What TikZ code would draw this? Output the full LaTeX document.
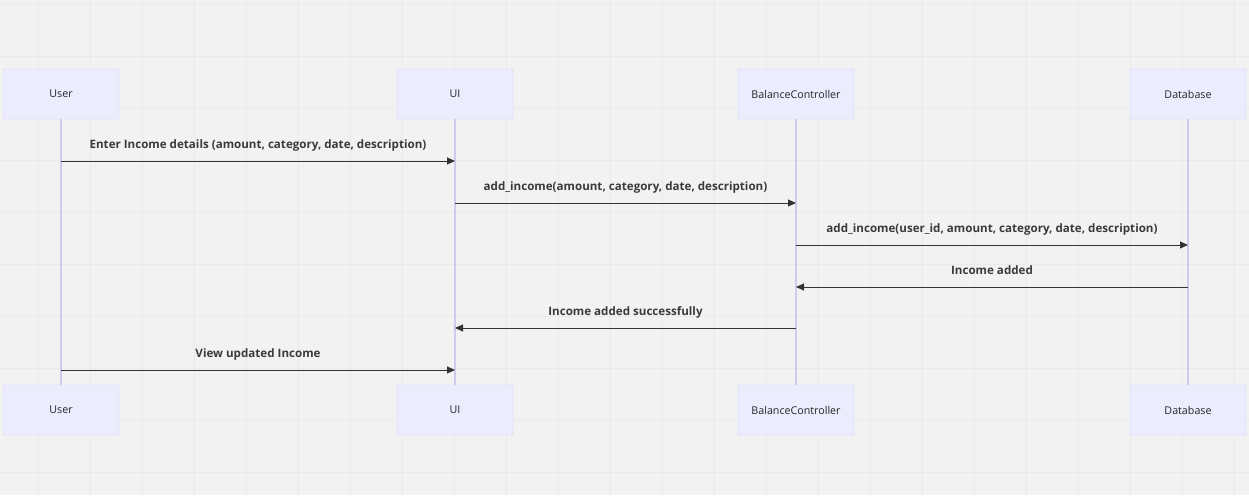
\documentclass[tikz,border=0pt]{standalone}
\usepackage{fontspec}
\setmainfont{Open Sans}
\usetikzlibrary{arrows.meta}
\definecolor{fundo}{HTML}{F2F2F2}
\definecolor{grade}{HTML}{EAEAEA}
\definecolor{caixa}{HTML}{ECECFF}
\definecolor{borda}{HTML}{D6CCF2}
\definecolor{vida}{HTML}{D4C8EE}
\definecolor{seta}{HTML}{333333}
\definecolor{letra}{HTML}{3A3A3A}
\tikzset{
  ator/.style={draw=borda, fill=caixa, rounded corners=1.5pt, minimum width=116pt, minimum height=50pt, font=\fontsize{10.7}{12}\selectfont, text=black!85},
  vidaline/.style={vida, line width=1.2pt},
  msg/.style={seta, line width=0.9pt, -{Triangle[length=8pt,width=7pt]}},
  rotulo/.style={font=\fontsize{11.6}{13}\selectfont\bfseries, text=letra, anchor=base}
}
\begin{document}
\begin{tikzpicture}[x=1pt,y=-1pt]
    \useasboundingbox (0,0) rectangle (1249,495);
    % fundo com grade
    \fill[fundo] (0,0) rectangle (1249,495);
    \foreach \gx in {38,90,...,1250} \draw[grade, line width=0.7pt] (\gx,0) -- (\gx,495);
    \foreach \gy in {4,56,...,495} \draw[grade, line width=0.7pt] (0,\gy) -- (1249,\gy);

    % participantes (topo e base)
    \node[ator] (userTop) at (61,94) {User};
    \node[ator] (uiTop) at (455,94) {UI};
    \node[ator] (ctrlTop) at (796,94) {BalanceController};
    \node[ator] (dbTop) at (1188,94) {Database};
    \node[ator] (userBot) at (61,410) {User};
    \node[ator] (uiBot) at (455,410) {UI};
    \node[ator] (ctrlBot) at (796,410) {BalanceController};
    \node[ator] (dbBot) at (1188,410) {Database};

    % linhas de vida
    \draw[vidaline] (userTop) -- (userBot);
    \draw[vidaline] (uiTop) -- (uiBot);
    \draw[vidaline] (ctrlTop) -- (ctrlBot);
    \draw[vidaline] (dbTop) -- (dbBot);

    % pontos das mensagens nas linhas de vida
    \coordinate (u1) at (userTop.south |- 0,161);
    \coordinate (i1) at (uiTop.south |- 0,161);
    \coordinate (i2) at (uiTop.south |- 0,203);
    \coordinate (c2) at (ctrlTop.south |- 0,203);
    \coordinate (c3) at (ctrlTop.south |- 0,245);
    \coordinate (d3) at (dbTop.south |- 0,245);
    \coordinate (d4) at (dbTop.south |- 0,287);
    \coordinate (c4) at (ctrlTop.south |- 0,287);
    \coordinate (c5) at (ctrlTop.south |- 0,328);
    \coordinate (i5) at (uiTop.south |- 0,328);
    \coordinate (u6) at (userTop.south |- 0,370);
    \coordinate (i6) at (uiTop.south |- 0,370);

    % mensagens
    \draw[msg] (u1) -- node[rotulo, yshift=13pt] {Enter Income details (amount, category, date, description)} (i1);
    \draw[msg] (i2) -- node[rotulo, yshift=13pt] {add\_income(amount, category, date, description)} (c2);
    \draw[msg] (c3) -- node[rotulo, yshift=13pt] {add\_income(user\_id, amount, category, date, description)} (d3);
    \draw[msg] (d4) -- node[rotulo, yshift=13pt] {Income added} (c4);
    \draw[msg] (c5) -- node[rotulo, yshift=13pt] {Income added successfully} (i5);
    \draw[msg] (u6) -- node[rotulo, yshift=13pt] {View updated Income} (i6);
\end{tikzpicture}
\end{document}
